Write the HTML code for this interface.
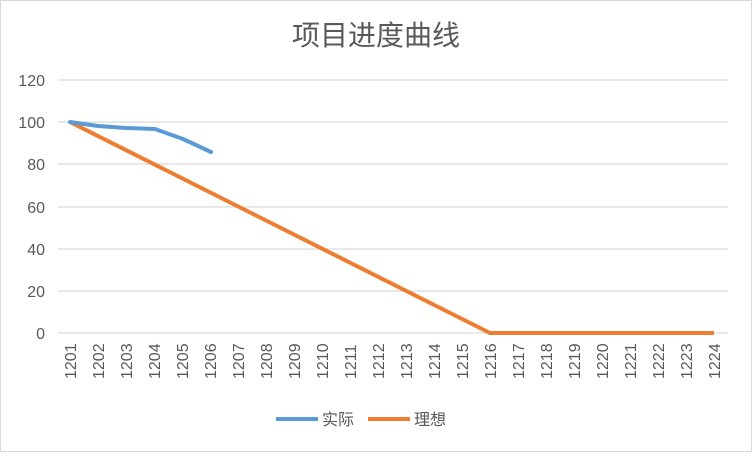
<!DOCTYPE html><html><head><meta charset="utf-8"><style>body{margin:0;background:#fff}</style></head><body>
<svg width="752" height="452" xmlns="http://www.w3.org/2000/svg" font-family="Liberation Sans, Noto Sans CJK SC, sans-serif">
<rect x="0.5" y="0.5" width="751" height="451" fill="#fff" stroke="#d9d9d9"/>
<text x="376" y="45" text-anchor="middle" font-size="28" fill="#595959" font-family="Noto Sans CJK SC, sans-serif">项目进度曲线</text>
<g stroke="#d9d9d9" stroke-width="1.3">
<line x1="58" x2="728" y1="80" y2="80"/><line x1="58" x2="728" y1="122" y2="122"/><line x1="58" x2="728" y1="164" y2="164"/><line x1="58" x2="728" y1="207" y2="207"/><line x1="58" x2="728" y1="249" y2="249"/><line x1="58" x2="728" y1="291" y2="291"/><line x1="58" x2="728" y1="333" y2="333"/>
</g>
<g font-size="16" fill="#595959" text-anchor="end">
<text x="45" y="86">120</text><text x="45" y="128">100</text><text x="45" y="170">80</text><text x="45" y="213">60</text><text x="45" y="255">40</text><text x="45" y="297">20</text><text x="45" y="339">0</text>
</g>
<g font-size="16" fill="#595959" id="xl"></g>
<polyline fill="none" stroke="#ed7d31" stroke-width="4" stroke-linejoin="round" points="70,122 490,333 714,333"/>
<polyline fill="none" stroke="#5b9bd5" stroke-width="4" stroke-linejoin="round" stroke-linecap="round" points="70,122 98,126 126,128 155,129 183,139 211,152"/>
<line x1="276" x2="318" y1="419" y2="419" stroke="#5b9bd5" stroke-width="4"/>
<text x="322" y="425" font-size="16" fill="#595959" font-family="Noto Sans CJK SC, sans-serif">实际</text>
<line x1="368" x2="410" y1="419" y2="419" stroke="#ed7d31" stroke-width="4"/>
<text x="414" y="425" font-size="16" fill="#595959" font-family="Noto Sans CJK SC, sans-serif">理想</text>
</svg>
<script>
var g=document.getElementById('xl'),s='';
for(var i=0;i<24;i++){var x=70+i*28,n=1201+i;s+='<text transform="translate('+(x+6)+',379) rotate(-90)">'+n+'</text>';}
g.innerHTML=s;
</script>
</body></html>
